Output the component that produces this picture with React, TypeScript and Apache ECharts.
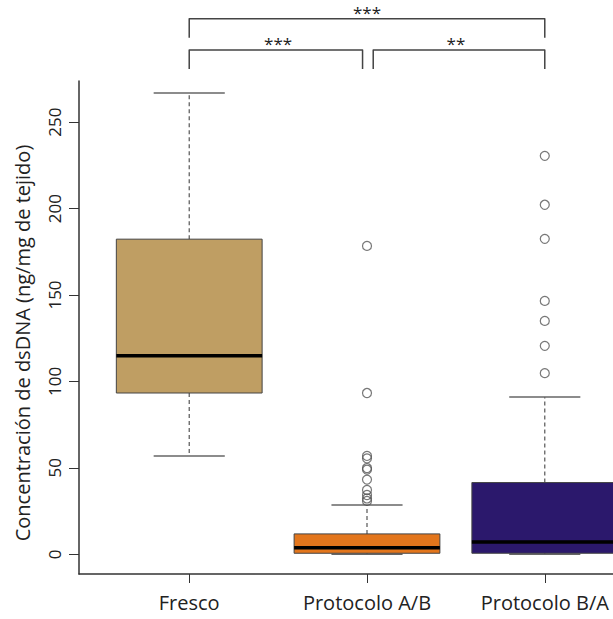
import React, { useEffect, useRef } from "react";
import * as echarts from "echarts";

const categories = ["Fresco", "Protocolo A/B", "Protocolo B/A"];
const whiskerLow = [56.9, 0, 0];
const q1 = [93.3, 0.6, 0.6];
const median = [114.8, 3.8, 7.1];
const q3 = [182.3, 11.8, 41.5];
const whiskerHigh = [266.9, 28.5, 91.0];
const boxColors = ["#BF9E63", "#E3761C", "#2B186C"];

const outliersAB = [178.4, 93.3, 56.9, 55.5, 49.9, 49.0, 43.2, 37.2, 34.3, 32.3, 30.9];
const outliersBA = [230.5, 202.2, 182.5, 146.6, 135.0, 120.6, 104.8];

const yTicks = [0, 50, 100, 150, 200, 250];
const xTicks = [1, 2, 3];

// comparisons: [from category index, to category index, level]
const compFrom = [0, 1, 0];
const compTo = [1, 2, 2];
const compLevel = [0, 0, 1];
const compLabels = ["***", "**", "***"];

const yTitle = "Concentración de dsDNA (ng/mg de tejido)";

export default function App() {
  const ref = useRef<HTMLDivElement>(null);
  useEffect(() => {
    if (!ref.current) return;
    const chart = echarts.init(ref.current, null, { renderer: "svg" });
    const font = "'Open Sans', 'DejaVu Sans', sans-serif";

    const boxData = categories.map((_, i) => [
      i + 1,
      whiskerLow[i],
      q1[i],
      median[i],
      q3[i],
      whiskerHigh[i],
    ]);

    const outlierData: number[][] = [];
    outliersAB.forEach((v) => outlierData.push([2, v]));
    outliersBA.forEach((v) => outlierData.push([3, v]));

    const compData = compFrom.map((f, i) => [f + 1, compTo[i] + 1, compLevel[i]]);

    const option: any = {
      animation: false,
      backgroundColor: "#ffffff",
      grid: { left: 79, right: 5, top: 81, bottom: 45 },
      xAxis: {
        type: "value",
        min: 0.38,
        max: 3.62,
        splitLine: { show: false },
        axisLine: { show: true, onZero: false, lineStyle: { color: "#333", width: 1.5 } },
        axisTick: { show: true, customValues: xTicks, length: 9, lineStyle: { color: "#333", width: 1 } },
        axisLabel: {
          customValues: xTicks,
          formatter: (v: number) => categories[Math.round(v) - 1] ?? "",
          fontFamily: font,
          fontSize: 20,
          color: "#222",
          margin: 18,
        },
      },
      yAxis: {
        type: "value",
        min: -11.4,
        max: 273.8,
        splitLine: { show: false },
        axisLine: { show: true, onZero: false, lineStyle: { color: "#333", width: 1.5 } },
        axisTick: { show: true, customValues: yTicks, length: 10, lineStyle: { color: "#333", width: 1 } },
        axisLabel: {
          customValues: yTicks,
          rotate: 90,
          fontFamily: font,
          fontSize: 17,
          color: "#222",
          margin: 16,
        },
      },
      series: [
        {
          type: "custom",
          name: "boxes",
          data: boxData,
          encode: { x: 0, y: [1, 2, 3, 4, 5] },
          renderItem: (params: any, api: any) => {
            const x = api.value(0);
            const i = params.dataIndex;
            const pLow = api.coord([x, api.value(1)]);
            const pQ1 = api.coord([x, api.value(2)]);
            const pMed = api.coord([x, api.value(3)]);
            const pQ3 = api.coord([x, api.value(4)]);
            const pHigh = api.coord([x, api.value(5)]);
            const bw = api.size([0.82, 0])[0];
            const hw = bw / 2;
            const cw = api.size([0.4, 0])[0] / 2;
            const cx = pMed[0];
            const wStyle = { stroke: "#555", lineWidth: 1.2, lineDash: [4, 3] };
            const capStyle = { stroke: "#666", lineWidth: 1.5 };
            return {
              type: "group",
              children: [
                { type: "line", shape: { x1: cx, y1: pQ3[1], x2: cx, y2: pHigh[1] }, style: wStyle },
                { type: "line", shape: { x1: cx, y1: pQ1[1], x2: cx, y2: pLow[1] }, style: wStyle },
                { type: "line", shape: { x1: cx - cw, y1: pHigh[1], x2: cx + cw, y2: pHigh[1] }, style: capStyle },
                { type: "line", shape: { x1: cx - cw, y1: pLow[1], x2: cx + cw, y2: pLow[1] }, style: capStyle },
                {
                  type: "rect",
                  shape: { x: cx - hw, y: pQ3[1], width: bw, height: pQ1[1] - pQ3[1] },
                  style: { fill: boxColors[i], stroke: "#444", lineWidth: 1 },
                },
                {
                  type: "line",
                  shape: { x1: cx - hw, y1: pMed[1], x2: cx + hw, y2: pMed[1] },
                  style: { stroke: "#000", lineWidth: 3.5 },
                },
              ],
            };
          },
          z: 2,
        },
        {
          type: "scatter",
          name: "outliers",
          data: outlierData,
          symbol: "circle",
          symbolSize: 9,
          itemStyle: { color: "rgba(0,0,0,0)", borderColor: "#555", borderWidth: 1.2 },
          z: 3,
        },
        {
          type: "custom",
          name: "brackets",
          data: compData,
          clip: false,
          encode: { x: [0, 1], y: 2 },
          renderItem: (params: any, api: any) => {
            const i = params.dataIndex;
            const from = api.value(0);
            const to = api.value(1);
            const level = api.value(2);
            // inset where two brackets on the same level share a category
            let x1 = from;
            let x2 = to;
            compFrom.forEach((f, j) => {
              if (j !== i && compLevel[j] === level && f + 1 === to) x2 -= 0.025;
              if (j !== i && compLevel[j] === level && compTo[j] + 1 === from) x1 += 0.035;
            });
            const lineY = level === 0 ? 291.8 : 309.8;
            const legY = level === 0 ? 280.8 : 298.8;
            const a = api.coord([x1, lineY]);
            const b = api.coord([x2, lineY]);
            const aLeg = api.coord([x1, legY]);
            const bLeg = api.coord([x2, legY]);
            const mid = api.coord([(from + to) / 2, lineY]);
            return {
              type: "group",
              children: [
                {
                  type: "polyline",
                  shape: { points: [[aLeg[0], aLeg[1]], [a[0], a[1]], [b[0], b[1]], [bLeg[0], bLeg[1]]] },
                  style: { stroke: "#444", lineWidth: 1.5, fill: "none", lineJoin: "round" },
                },
                {
                  type: "text",
                  x: mid[0],
                  y: a[1] + 2,
                  style: {
                    text: compLabels[i],
                    fill: "#222",
                    font: `17px ${font}`,
                    align: "center",
                    verticalAlign: "bottom",
                  },
                },
              ],
            };
          },
          z: 4,
        },
      ],
      graphic: [
        {
          type: "text",
          x: 22,
          y: 343,
          rotation: Math.PI / 2,
          style: {
            text: yTitle,
            fill: "#222",
            font: `20px ${font}`,
            align: "center",
            verticalAlign: "middle",
          },
        },
      ],
    };
    chart.setOption(option);
    return () => chart.dispose();
  }, []);
  return (
    <div
      style={{
        position: "fixed",
        left: 0,
        top: 0,
        width: 613,
        height: 619,
        overflow: "hidden",
        background: "#fff",
      }}
    >
      <div ref={ref} style={{ width: 660, height: 619 }} />
    </div>
  );
}
